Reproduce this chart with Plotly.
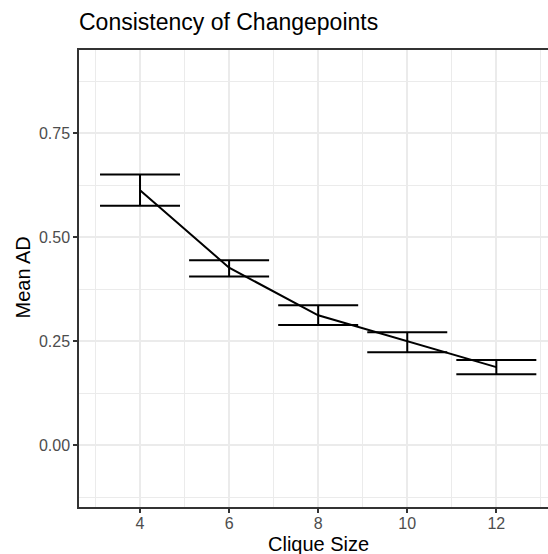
import plotly.graph_objects as go

clique_size = [4, 6, 8, 10, 12]
mean_ad = [0.613, 0.427, 0.3125, 0.250, 0.188]
upper = [0.651, 0.445, 0.3365, 0.272, 0.205]
lower = [0.576, 0.406, 0.289, 0.224, 0.171]

err_plus = [u - m for u, m in zip(upper, mean_ad)]
err_minus = [m - l for m, l in zip(mean_ad, lower)]

W, H = 548, 554
L, R, T, B = 79, 0, 50, 47
pw = W - L - R
ph = H - T - B

fig = go.Figure()
fig.add_trace(go.Scatter(
    x=clique_size, y=mean_ad, mode="lines",
    line=dict(color="black", width=2),
    error_y=dict(type="data", symmetric=False, array=err_plus, arrayminus=err_minus,
                 color="black", thickness=2, width=40),
    showlegend=False, hoverinfo="skip",
))

font_family = "Liberation Sans, Arial, Helvetica, sans-serif"
grid_major = "#EBEBEB"

fig.update_layout(
    width=W, height=H,
    margin=dict(l=L, r=R, t=T, b=B, pad=0),
    paper_bgcolor="white", plot_bgcolor="white",
    font=dict(family=font_family, color="black"),
    xaxis=dict(
        range=[2.63, 13.16], tickvals=[4, 6, 8, 10, 12],
        ticktext=["4", "6", "8", "10", "12"],
        showgrid=True, gridcolor=grid_major, gridwidth=2,
        minor=dict(tick0=3, dtick=2, showgrid=True, gridcolor=grid_major, gridwidth=1.2, ticklen=0),
        showline=True, linecolor="#333333", linewidth=1.5, mirror=True,
        ticks="outside", ticklen=4, tickwidth=1.5, tickcolor="#333333",
        ticklabelstandoff=-3,
        tickfont=dict(size=16, color="#4D4D4D"), zeroline=False,
    ),
    yaxis=dict(
        range=[-0.148, 0.950], tickvals=[0, 0.25, 0.5, 0.75],
        ticktext=["0.00", "0.25", "0.50", "0.75"],
        showgrid=True, gridcolor=grid_major, gridwidth=2,
        minor=dict(tick0=0.125, dtick=0.25, showgrid=True, gridcolor=grid_major, gridwidth=1.2, ticklen=0),
        showline=True, linecolor="#333333", linewidth=1.5, mirror=False,
        ticks="outside", ticklen=4, tickwidth=1.5, tickcolor="#333333",
        tickfont=dict(size=16, color="#4D4D4D"), zeroline=False,
    ),
    annotations=[
        dict(text="Consistency of Changepoints", xref="paper", yref="paper",
             x=(77 - L) / pw, y=1 + (T - 22) / ph, xanchor="left", yanchor="middle",
             showarrow=False, font=dict(size=23, color="black")),
        dict(text="Clique Size", xref="x", yref="paper", x=8,
             y=-(544 - (H - B)) / ph, xanchor="center", yanchor="middle",
             showarrow=False, font=dict(size=20, color="black")),
        dict(text="Mean AD", xref="paper", yref="paper", x=(22.5 - L) / pw,
             y=1 - (278 - T) / ph, xanchor="center", yanchor="middle", textangle=-90,
             showarrow=False, font=dict(size=20, color="black")),
    ],
)

fig.write_html("out.html")
